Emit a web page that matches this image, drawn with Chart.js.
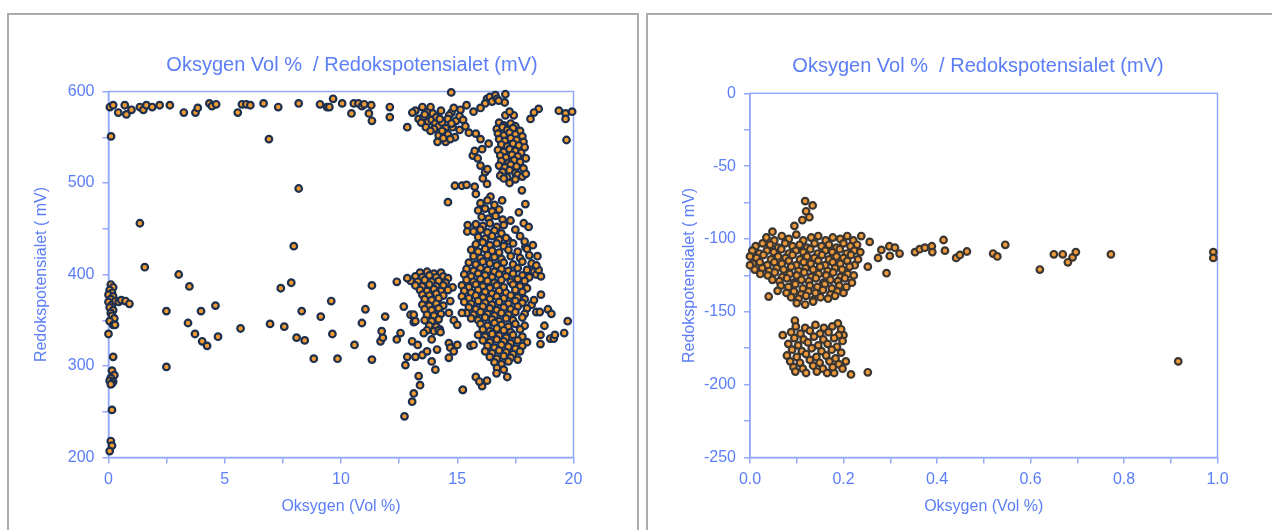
<!DOCTYPE html>
<html>
<head>
<meta charset="utf-8">
<script src="https://cdn.jsdelivr.net/npm/chart.js@4.4.1/dist/chart.umd.min.js"></script>
<style>
html,body{margin:0;padding:0;background:#fff;width:1272px;height:530px;overflow:hidden;font-family:"Liberation Sans",Arial,sans-serif;}
.panel{position:absolute;top:13px;height:540px;border:2px solid #ababab;box-sizing:border-box;}
#p1{left:7px;width:632px;}
#p2{left:646px;width:640px;}
.ttl{position:absolute;white-space:pre;font-size:20px;line-height:20px;color:#5b7ef7;transform:translate(-50%,-50%);}
canvas{position:absolute;top:0;}
</style>
</head>
<body>
<div class="panel" id="p1"></div>
<div class="panel" id="p2"></div>
<canvas id="c1" width="626" height="530" style="left:10px;width:626px;height:530px"></canvas>
<canvas id="c2" width="624" height="530" style="left:648px;width:624px;height:530px"></canvas>
<div class="ttl" style="left:352px;top:64px">Oksygen Vol %  / Redokspotensialet (mV)</div>
<div class="ttl" style="left:978px;top:65px">Oksygen Vol %  / Redokspotensialet (mV)</div>
<script>
// ---------- Titles / tick labels ----------
const chartTitle = 'Oksygen Vol %  / Redokspotensialet (mV)';
const xTitle = 'Oksygen (Vol %)';
const yTitle = 'Redokspotensialet ( mV)';
const leftXTicks = [0, 5, 10, 15, 20];
const leftYTicks = [200, 300, 400, 500, 600];
const rightXTicks = [0.0, 0.2, 0.4, 0.6, 0.8, 1.0];
const rightYTicks = [-250, -200, -150, -100, -50, 0];

// ---------- Left chart data: [Oksygen Vol %, Redoks mV] ----------
const leftTopRow = [[0.06,583],[0.2,585],[0.42,577],[0.7,585],[0.77,575],[0.99,580],[1.35,583],[1.5,580],[1.63,585],[1.88,583],[2.2,585],[2.64,585],[3.24,577],[3.74,577],[3.84,582],[4.34,587],[4.45,584],[4.63,586],[5.56,577],[5.74,586],[5.93,586],[6.1,585],[6.67,587],[7.3,583],[8.18,587],[9.1,586],[9.4,583],[9.5,583],[9.66,592],[10.05,587],[10.45,576],[10.55,587],[10.75,587],[10.9,584],[11.0,586],[11.2,576],[11.3,585],[11.33,568],[12.1,583],[12.1,572]];

const leftNearZero = [[0.11,551],[0.1,389],[0.2,386],[0.05,383],[0.15,380],[0.0,378],[0.2,376],[0.1,373],[0.0,370],[0.15,367],[0.05,364],[0.2,361],[0.1,358],[0.15,355],[0.25,352],[0.05,349],[0.2,345],[0.28,345],[0.0,335],[0.2,310],[0.15,295],[0.25,290],[0.1,287],[0.05,284],[0.2,283],[0.15,281],[0.1,280],[0.15,252],[0.1,218],[0.15,213],[0.05,207],[0.3,371],[0.44,370],[0.55,372],[0.73,371],[0.9,368]];

const leftMidScatter = [[1.35,456],[1.56,408],[6.9,548],[8.18,494],[7.97,431],[3.02,400],[3.48,387],[2.49,360],[3.42,347],[3.72,335],[3.98,360],[4.03,327],[4.24,322],[4.6,366],[4.71,332],[5.68,341],[2.49,299],[7.41,385],[6.95,346],[7.56,343],[7.86,391],[8.09,331],[8.31,360],[8.44,328],[8.83,308],[9.13,354],[9.58,371],[9.63,335],[9.85,308],[10.58,323],[10.9,347],[11.05,362],[11.33,388],[11.33,307],[11.7,327],[11.9,354],[11.8,331],[11.75,338]];

const leftUpperBand = [[14.74,599],[17.07,597],[17.04,588],[16.28,592],[16.4,594],[16.5,589],[16.64,596],[16.71,592],[16.78,590],[16.2,587],[16.0,582],[15.7,578],[15.4,585],[15.14,580],[14.75,577],[14.85,582],[14.65,574],[14.3,579],[13.85,583],[13.7,577],[13.5,583],[13.2,579],[13.07,577],[13.34,570],[13.55,572],[13.75,567],[13.9,569],[14.05,565],[14.2,562],[14.35,566],[14.5,560],[12.85,561],[14.0,559],[14.2,552],[14.45,555],[14.5,545],[14.9,550],[14.8,561],[14.95,568],[15.1,558],[15.35,562],[15.5,555],[15.8,554],[16.0,548],[16.07,537],[16.35,543],[15.67,530],[15.88,527],[15.75,535],[16.0,519],[16.2,512],[15.1,573],[15.25,569],[14.6,570],[13.6,575],[13.95,576],[14.1,572],[14.25,570],[13.45,566],[13.65,561],[13.85,557],[14.35,557],[14.6,553],[14.7,548],[14.4,549],[14.15,545],[14.75,565],[17.07,574],[17.43,574],[17.25,578],[18.5,581],[18.3,577],[18.15,570],[19.37,579],[19.66,576],[19.94,578],[19.66,570],[19.7,547]];

const leftUpperCluster = [[16.8,566],[17.0,563],[17.3,565],[17.5,562],[16.7,559],[16.95,561],[17.15,558],[17.4,560],[17.7,557],[16.75,554],[17.0,552],[17.25,555],[17.5,553],[17.8,551],[16.8,548],[17.05,546],[17.3,549],[17.55,547],[17.85,545],[16.9,542],[17.15,540],[17.4,543],[17.65,541],[17.9,539],[16.75,536],[17.0,534],[17.25,537],[17.5,535],[17.75,533],[16.85,530],[17.1,528],[17.35,531],[17.6,529],[17.95,527],[16.9,524],[17.2,522],[17.45,525],[17.7,523],[16.8,519],[17.05,517],[17.3,520],[17.55,518],[17.85,516],[16.95,512],[17.25,514],[17.5,511],[16.85,508],[17.15,506],[17.6,509],[17.8,507],[17.95,510]];

const leftBridge = [[14.9,497],[15.2,497],[15.4,498],[15.75,496],[16.28,499],[14.6,479],[15.8,488],[16.43,485],[16.93,481],[17.78,492],[17.93,477],[17.65,468],[17.29,459],[17.86,456],[18.07,452],[17.2,437],[17.93,430],[15.45,454],[15.43,447],[16.1,505],[16.3,515],[17.0,505],[17.5,504],[17.25,500]];

const leftMainColumn = [[16.0,478],[16.3,481],[16.6,476],[15.9,470],[16.2,472],[16.5,469],[16.8,471],[16.05,463],[16.35,461],[16.65,464],[16.95,460],[15.8,455],[16.1,453],[16.4,456],[16.7,452],[17.0,454],[15.7,447],[16.0,449],[16.3,446],[16.6,448],[16.9,445],[17.5,449],[15.9,441],[16.2,439],[16.5,442],[16.8,438],[17.1,440],[17.7,442],[15.8,433],[16.1,435],[16.4,432],[16.7,434],[17.0,431],[17.4,434],[17.9,436],[15.6,427],[15.9,425],[16.2,428],[16.5,426],[16.8,424],[17.2,427],[17.6,425],[18.0,428],[15.7,420],[16.0,418],[16.3,421],[16.6,419],[16.9,417],[17.3,420],[17.7,418],[18.1,421],[15.5,413],[15.8,411],[16.1,414],[16.4,412],[16.7,410],[17.0,413],[17.4,411],[17.8,414],[18.2,412],[15.4,406],[15.7,404],[16.0,407],[16.3,405],[16.6,403],[16.9,406],[17.2,404],[17.6,407],[18.0,405],[18.3,403],[15.3,400],[15.6,398],[15.9,401],[16.2,399],[16.5,397],[16.8,400],[17.1,398],[17.4,401],[17.8,399],[18.1,397],[18.4,400],[15.4,394],[15.7,392],[16.0,395],[16.3,393],[16.6,391],[16.9,394],[17.3,392],[17.6,395],[17.9,393],[15.2,388],[15.5,386],[15.8,389],[16.1,387],[16.4,385],[16.7,388],[17.0,386],[17.4,389],[17.7,387],[18.0,385],[15.3,382],[15.6,380],[15.9,383],[16.2,381],[16.5,379],[16.8,382],[17.1,380],[17.5,383],[17.8,381],[15.2,376],[15.5,374],[15.8,377],[16.1,375],[16.4,373],[16.7,376],[17.0,374],[17.3,377],[17.6,375],[17.9,373],[15.3,370],[15.6,368],[15.9,371],[16.2,369],[16.5,367],[16.8,370],[17.2,368],[17.5,371],[17.8,369],[18.2,367],[15.5,364],[15.8,362],[16.1,365],[16.4,363],[16.7,361],[17.0,364],[17.3,362],[17.6,365],[18.0,363],[15.4,358],[15.7,356],[16.0,359],[16.3,357],[16.6,355],[16.9,358],[17.2,356],[17.5,359],[17.9,357],[15.6,352],[15.9,350],[16.2,353],[16.5,351],[16.8,349],[17.1,352],[17.4,350],[17.8,353],[16.0,346],[16.3,344],[16.6,347],[16.9,345],[17.2,343],[17.5,346],[17.9,344],[16.1,340],[16.4,338],[16.7,341],[17.0,339],[17.3,337],[17.7,340],[15.9,334],[16.2,332],[16.5,335],[16.8,333],[17.1,331],[17.4,334],[17.8,332],[16.1,328],[16.4,326],[16.7,329],[17.0,327],[17.3,325],[17.6,328],[18.0,326],[16.3,322],[16.6,320],[16.9,323],[17.2,321],[17.5,319],[17.8,322],[16.2,316],[16.5,314],[16.8,317],[17.1,315],[17.4,313],[17.7,316],[16.4,310],[16.7,308],[17.0,311],[17.3,309],[17.6,307],[16.6,304],[16.9,302],[17.2,305],[16.71,298],[17.0,296],[16.69,292],[17.15,288],[15.8,288],[16.07,278],[15.95,283],[16.28,284],[15.24,274]];

const leftRightScatter = [[18.4,359],[18.55,359],[18.9,362],[19.05,357],[18.75,344],[18.58,334],[18.58,324],[19.0,330],[19.15,330],[19.2,334],[19.6,336],[19.75,349],[18.5,405],[18.6,398],[18.4,410],[18.45,420],[18.25,432],[18.6,378],[18.3,372]];

const leftLowerCluster = [[13.4,402],[13.7,403],[14.0,401],[14.3,402],[13.2,398],[13.5,397],[13.8,399],[14.1,397],[14.4,398],[14.6,396],[13.0,393],[13.3,392],[13.6,394],[13.9,392],[14.2,393],[14.5,391],[13.2,388],[13.5,387],[13.8,389],[14.1,387],[14.4,388],[14.8,386],[13.4,383],[13.7,382],[14.0,384],[14.3,382],[14.6,383],[13.5,378],[13.8,377],[14.1,379],[14.4,377],[13.6,373],[13.9,372],[14.2,374],[14.7,371],[13.5,367],[13.8,366],[14.1,368],[14.4,366],[13.6,362],[13.9,361],[14.2,363],[13.7,356],[14.0,355],[14.3,357],[13.6,350],[13.9,349],[14.2,351],[13.8,344],[14.1,343],[13.7,339],[14.0,338],[14.25,340],[13.56,336],[13.9,329],[12.99,356],[13.13,348]];

const leftLowerScatter = [[12.4,392],[12.85,396],[12.7,365],[13.13,356],[13.2,349],[12.4,329],[12.56,336],[13.06,327],[13.3,323],[12.85,310],[12.77,301],[13.2,310],[13.5,312],[13.7,316],[13.9,305],[14.13,318],[14.06,296],[13.34,289],[13.4,279],[13.13,270],[13.06,261],[12.73,245],[14.64,325],[14.7,320],[15.0,323],[14.85,316],[14.64,309],[14.2,339],[14.28,337],[14.64,358],[14.85,350],[15.0,345],[15.2,358],[15.57,322],[15.7,323],[15.24,274]];

// ---------- Right chart data: [Oksygen Vol %, Redoks mV] ----------
const rightBlob = [[0.035,-99],[0.052,-101],[0.068,-98],[0.083,-100],[0.099,-97],[0.114,-101],[0.131,-99],[0.146,-98],[0.162,-101],[0.177,-99],[0.193,-100],[0.208,-98],[0.221,-101],[0.012,-105],[0.027,-103],[0.043,-104],[0.06,-106],[0.075,-103],[0.091,-105],[0.106,-104],[0.122,-106],[0.138,-103],[0.153,-105],[0.169,-104],[0.185,-106],[0.2,-103],[0.215,-105],[0.229,-104],[0.005,-108],[0.02,-110],[0.036,-108],[0.051,-109],[0.067,-107],[0.083,-110],[0.098,-108],[0.114,-109],[0.129,-107],[0.145,-110],[0.161,-108],[0.176,-109],[0.192,-107],[0.207,-110],[0.223,-108],[0.236,-109],[0.0,-112],[0.014,-113],[0.029,-111],[0.045,-114],[0.06,-112],[0.076,-113],[0.091,-111],[0.107,-114],[0.122,-112],[0.138,-113],[0.154,-111],[0.169,-114],[0.185,-112],[0.2,-113],[0.216,-111],[0.231,-114],[0.006,-117],[0.021,-116],[0.037,-118],[0.052,-116],[0.068,-117],[0.083,-115],[0.099,-118],[0.115,-116],[0.13,-117],[0.146,-115],[0.161,-118],[0.177,-116],[0.193,-117],[0.208,-115],[0.224,-118],[0.01,-121],[0.026,-120],[0.041,-122],[0.057,-120],[0.072,-121],[0.088,-119],[0.104,-122],[0.119,-120],[0.135,-121],[0.15,-119],[0.166,-122],[0.182,-120],[0.197,-121],[0.213,-119],[0.022,-124],[0.038,-125],[0.053,-123],[0.069,-126],[0.085,-124],[0.1,-125],[0.116,-123],[0.131,-126],[0.147,-124],[0.163,-125],[0.178,-123],[0.194,-126],[0.209,-124],[0.222,-125],[0.048,-128],[0.063,-129],[0.079,-127],[0.094,-130],[0.11,-128],[0.126,-129],[0.141,-127],[0.157,-130],[0.172,-128],[0.188,-129],[0.203,-127],[0.218,-130],[0.066,-132],[0.082,-133],[0.097,-131],[0.113,-134],[0.128,-132],[0.144,-133],[0.16,-131],[0.175,-134],[0.191,-132],[0.206,-133],[0.078,-137],[0.094,-136],[0.109,-138],[0.125,-136],[0.14,-137],[0.156,-135],[0.172,-138],[0.187,-136],[0.2,-137],[0.088,-140],[0.104,-141],[0.12,-139],[0.135,-142],[0.151,-140],[0.167,-141],[0.182,-139],[0.1,-144],[0.118,-145],[0.135,-143]];

const rightBlobOutliers = [[0.118,-74],[0.134,-77],[0.12,-81],[0.127,-85],[0.112,-87],[0.095,-91],[0.048,-95],[0.0,-118],[0.04,-139.5],[0.059,-135.6]];

const rightLowerBlob = [[0.096,-156],[0.07,-166],[0.188,-158],[0.2,-166],[0.216,-193],[0.252,-191.5],[0.18,-192],[0.098,-160],[0.118,-161],[0.14,-159],[0.158,-161],[0.176,-160],[0.195,-162],[0.088,-164],[0.108,-165],[0.128,-163],[0.15,-165],[0.168,-164],[0.19,-166],[0.095,-168],[0.115,-169],[0.137,-167],[0.157,-169],[0.18,-168],[0.198,-170],[0.082,-172],[0.103,-173],[0.124,-171],[0.146,-173],[0.166,-172],[0.186,-174],[0.09,-176],[0.111,-177],[0.132,-175],[0.153,-177],[0.175,-176],[0.195,-178],[0.079,-180],[0.1,-181],[0.12,-179],[0.142,-181],[0.163,-180],[0.183,-182],[0.086,-184],[0.107,-185],[0.128,-183],[0.149,-185],[0.17,-184],[0.19,-186],[0.205,-184],[0.093,-188],[0.113,-189],[0.135,-187],[0.156,-189],[0.177,-188],[0.198,-189],[0.097,-191],[0.12,-192],[0.143,-191],[0.165,-192]];

const rightTail = [[0.238,-98],[0.256,-102],[0.252,-119],[0.274,-113],[0.281,-107.5],[0.298,-105],[0.31,-106],[0.299,-111.6],[0.32,-110],[0.292,-123.5],[0.353,-109],[0.363,-107],[0.374,-106],[0.389,-105],[0.39,-109],[0.414,-100.7],[0.417,-108],[0.441,-113],[0.449,-111],[0.464,-108.6],[0.52,-110],[0.529,-112],[0.546,-104],[0.62,-121],[0.65,-110.5],[0.669,-110.5],[0.68,-116],[0.69,-112.6],[0.697,-109],[0.772,-110.5],[0.916,-184],[0.991,-109],[0.991,-113]];

// ---------- styling ----------
const axisBlue = '#93a9fb';
const textBlue = '#5b7ef7';
const FONT = "'Liberation Sans', Arial, sans-serif";

const plotBox = {
  id: 'plotBox',
  beforeDatasetsDraw(chart) {
    const {ctx, chartArea: a} = chart;
    ctx.save();
    ctx.strokeStyle = axisBlue;
    ctx.lineWidth = 1.5;
    ctx.strokeRect(a.left, a.top, a.right - a.left, a.bottom - a.top);
    ctx.restore();
  }
};

function toPts(...groups) {
  const out = [];
  groups.forEach(g => g.forEach(([x, y]) => out.push({x, y})));
  return out;
}

function makeChart(id, cfg) {
  return new Chart(document.getElementById(id), {
    type: 'scatter',
    data: {datasets: [{
      label: chartTitle,
      data: cfg.points,
      pointRadius: 3.3,
      pointBorderWidth: 2.2,
      pointHoverRadius: 3.3,
      backgroundColor: cfg.fill,
      borderColor: cfg.stroke,
      clip: false,
      showLine: false
    }]},
    options: {
      responsive: false,
      devicePixelRatio: 1,
      animation: false,
      events: [],
      layout: {padding: cfg.padding},
      plugins: {legend: {display: false}, tooltip: {enabled: false}, title: {display: false}},
      scales: {
        x: {
          type: 'linear', position: 'bottom',
          min: cfg.xMin, max: cfg.xMax,
          ticks: {stepSize: cfg.xStep, autoSkip: false, maxRotation: 0, color: textBlue,
                  font: {family: FONT, size: 16}, padding: 6, callback: cfg.xLabel},
          grid: {drawOnChartArea: false, drawTicks: true, tickLength: 6, color: axisBlue, lineWidth: 1.5},
          border: {display: true, color: axisBlue, width: 1.5},
          title: {display: true, text: xTitle, color: textBlue, font: {family: FONT, size: 16},
                  padding: {top: 0, bottom: 13.4}},
          afterFit(s) { s.height = cfg.xHeight; }
        },
        y: {
          type: 'linear', position: 'left',
          min: cfg.yMin, max: cfg.yMax,
          ticks: {stepSize: cfg.yStep, autoSkip: false, color: textBlue,
                  font: {family: FONT, size: 16}, padding: 8, callback: cfg.yLabel},
          grid: {drawOnChartArea: false, drawTicks: true, tickLength: 6, color: axisBlue, lineWidth: 1.5},
          border: {display: true, color: axisBlue, width: 1.5},
          title: {display: true, text: yTitle, color: textBlue, font: {family: FONT, size: 16},
                  padding: {top: cfg.yTitlePad, bottom: 0}},
          afterFit(s) { s.width = cfg.yWidth; }
        }
      }
    },
    plugins: [plotBox]
  });
}

makeChart('c1', {
  points: toPts(leftTopRow, leftNearZero, leftMidScatter, leftUpperBand, leftUpperCluster, leftBridge,
                leftMainColumn, leftRightScatter, leftLowerCluster, leftLowerScatter),
  fill: '#f29b30', stroke: '#1d2f4e',
  padding: {left: 0, right: 62.5, top: 91.5, bottom: 0},
  xMin: leftXTicks[0], xMax: leftXTicks[leftXTicks.length - 1], xStep: 2.5,
  xLabel: v => leftXTicks.includes(v) ? String(v) : '',
  yMin: leftYTicks[0], yMax: leftYTicks[leftYTicks.length - 1], yStep: 50,
  yLabel: v => leftYTicks.includes(v) ? String(v) : '',
  xHeight: 72.5, yWidth: 98.5, yTitlePad: 22.4
});

makeChart('c2', {
  points: toPts(rightBlob, rightBlobOutliers, rightLowerBlob, rightTail),
  fill: '#ef9a3a', stroke: '#3b3632',
  padding: {left: 0, right: 54.5, top: 93.3, bottom: 0},
  xMin: 0, xMax: 1, xStep: 0.1,
  xLabel: v => rightXTicks.some(t => Math.abs(t - v) < 1e-6) ? v.toFixed(1) : '',
  yMin: rightYTicks[0], yMax: rightYTicks[rightYTicks.length - 1], yStep: 25,
  yLabel: v => rightYTicks.includes(v) ? String(v) : '',
  xHeight: 72.5, yWidth: 102, yTitlePad: 32.4
});
</script>
</body>
</html>
